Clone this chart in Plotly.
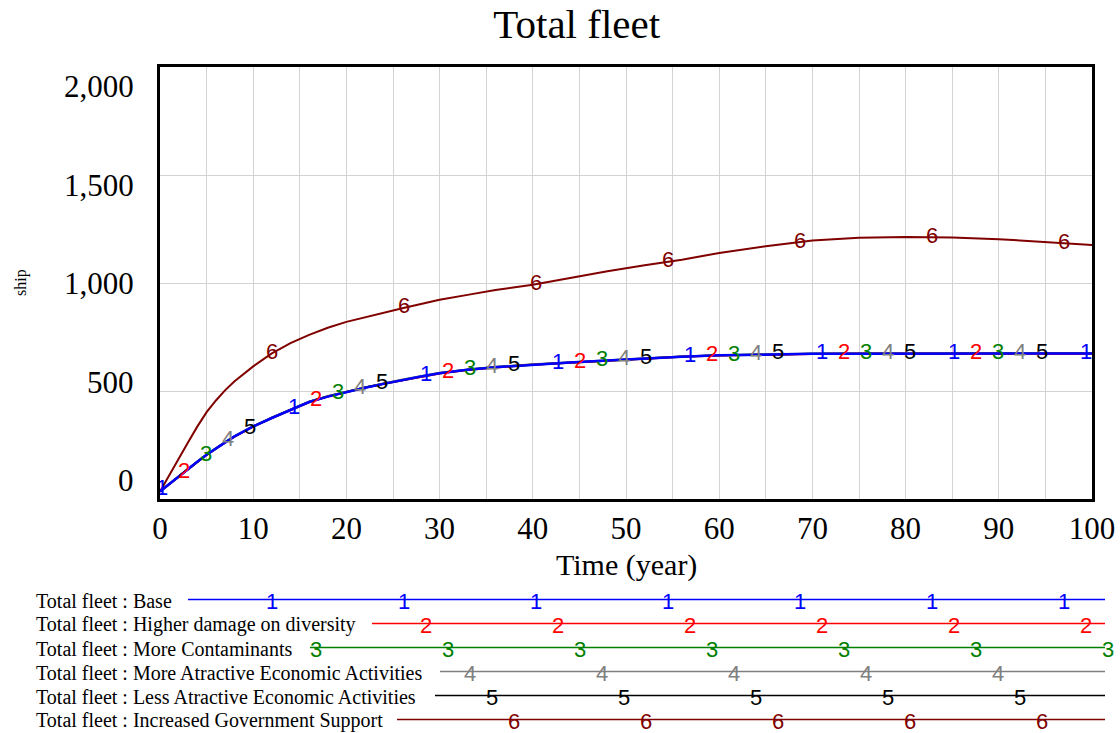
import numpy as np
import plotly.graph_objects as go

# ---------------- data ----------------
time = [0, 1, 2, 3, 4, 5, 6, 7, 8, 10, 12, 14, 16, 18, 20, 22, 24, 26, 28, 30,
        33, 36, 40, 44, 48, 52, 56, 60, 65, 70, 75, 80, 85, 90, 95, 100]

base = [35, 70, 103, 136, 172, 205, 235, 262, 290, 336, 375, 412, 449, 474, 496, 515, 533, 551, 567, 582,
        598, 610, 622, 632, 641, 651, 659, 665, 670, 672, 673, 673, 674, 674, 674, 674]
higher_damage = [35, 70, 103, 136, 171, 204, 234, 262, 289, 335, 375, 412, 448, 474, 495, 515, 533, 550, 567, 581,
                 597, 609, 621, 631, 640, 650, 658, 664, 669, 671, 672, 673, 673, 673, 673, 673]
more_contaminants = [35, 70, 104, 137, 172, 205, 235, 263, 290, 336, 376, 413, 449, 475, 496, 516, 534, 551, 568, 582,
                     598, 610, 622, 632, 641, 650, 659, 665, 670, 672, 673, 673, 674, 674, 674, 674]
more_attractive = [35, 71, 104, 137, 173, 206, 236, 263, 291, 337, 377, 414, 450, 476, 497, 517, 535, 553, 569, 584,
                   600, 612, 624, 634, 643, 652, 660, 666, 671, 673, 674, 674, 675, 675, 675, 675]
less_attractive = [35, 70, 103, 136, 172, 205, 235, 262, 290, 336, 376, 413, 450, 476, 497, 516, 535, 552, 568, 583,
                   599, 611, 623, 633, 642, 651, 660, 666, 671, 673, 674, 674, 674, 674, 674, 674]
gov_support = [35, 112, 190, 262, 335, 402, 456, 504, 545, 614, 674, 722, 760, 793, 820, 842, 862, 883, 903, 922,
               945, 968, 992, 1024, 1054, 1082, 1108, 1139, 1170, 1197, 1210, 1213, 1211, 1203, 1190, 1176]

series_names = ["Base", "Higher damage on diversity", "More Contaminants",
                "More Atractive Economic Activities", "Less Atractive Economic Activities",
                "Increased Government Support"]
series_values = [base, higher_damage, more_contaminants, more_attractive, less_attractive, gov_support]
series_labels = ["1", "2", "3", "4", "5", "6"]

x_tick_vals = [0, 10, 20, 30, 40, 50, 60, 70, 80, 90, 100]
x_tick_text = ["0", "10", "20", "30", "40", "50", "60", "70", "80", "90", "100"]
y_tick_vals = [0, 500, 1000, 1500, 2000]
y_tick_text = ["0", "500", "1,000", "1,500", "2,000"]

title_text = "Total fleet"
x_title = "Time (year)"
y_title = "ship"

# ---------------- styling ----------------
W, H = 1120, 733
colors = ["#0000FF", "#FF0000", "#008000", "#808080", "#000000", "#800000"]
widths = [2.5, 2, 2, 2, 2, 2]
serif = "Liberation Serif, Times New Roman, serif"
sans = "Liberation Sans, Arial, sans-serif"
grid = "#D3D3D3"

PX0, PX1 = 160, 1092     # plot area, pixels
PY0, PY1 = 67, 499


def fx(p):
    return p / W


def fy(p):
    return 1 - p / H


fig = go.Figure()

# lines (series 1 on top)
for i in reversed(range(6)):
    fig.add_trace(go.Scatter(x=time, y=series_values[i], mode="lines",
                             line=dict(color=colors[i], width=widths[i]),
                             name="Total fleet : " + series_names[i],
                             showlegend=False, hoverinfo="x+y+name"))

# numbered markers along the lines (Vensim style)
px_per_year = (PX1 - PX0) / 100.0
for i in range(6):
    mx = []
    p = 162 + 22 * i
    while p <= PX1:
        mx.append((p - PX0) / px_per_year)
        p += 132
    my = list(np.interp(mx, time, series_values[i]))
    fig.add_trace(go.Scatter(x=mx, y=my, mode="text", text=[series_labels[i]] * len(mx),
                             textposition="middle center",
                             textfont=dict(family=sans, size=22, color=colors[i]),
                             showlegend=False, hoverinfo="skip"))

annotations = []
shapes = []

# y tick labels (Vensim spaces them evenly inside the frame)
for k, t in enumerate(y_tick_text):
    annotations.append(dict(text=t, xref="paper", yref="y domain",
                            x=fx(136), y=0.042 + k * 0.228, xanchor="right", yanchor="middle",
                            showarrow=False, font=dict(family=serif, size=31, color="black")))

# axis titles
annotations.append(dict(text=x_title, xref="paper", yref="paper", x=fx(626), y=fy(565),
                        xanchor="center", yanchor="middle", showarrow=False,
                        font=dict(family=serif, size=30, color="black")))
annotations.append(dict(text=y_title, xref="paper", yref="paper", x=fx(21), y=fy(283),
                        xanchor="center", yanchor="middle", textangle=-90, showarrow=False,
                        font=dict(family=serif, size=16, color="black")))

# legend at the bottom
leg_y = [599.5, 623.5, 647.5, 671.5, 695.5, 719.5]
leg_start = [188, 372, 310, 440, 435, 397]
leg_end = 1105
for i in range(6):
    annotations.append(dict(text="Total fleet : " + series_names[i], xref="paper", yref="paper",
                            x=fx(34), y=fy(leg_y[i] + 1), xanchor="left", yanchor="middle",
                            showarrow=False, font=dict(family=serif, size=20, color="black")))
    shapes.append(dict(type="line", xref="paper", yref="paper",
                       x0=fx(leg_start[i]), x1=fx(leg_end), y0=fy(leg_y[i]), y1=fy(leg_y[i]),
                       line=dict(color=colors[i], width=1.6)))
    p = 272 + 22 * i
    while p <= 1110:
        if p >= leg_start[i] + 3:
            annotations.append(dict(text=series_labels[i], xref="paper", yref="paper",
                                    x=fx(p), y=fy(leg_y[i] + 1.5), xanchor="center", yanchor="middle",
                                    showarrow=False,
                                    font=dict(family=sans, size=22, color=colors[i])))
        p += 132

fig.update_layout(
    width=W, height=H,
    margin=dict(l=0, r=0, t=0, b=0, pad=0, autoexpand=False),
    paper_bgcolor="white", plot_bgcolor="white",
    title=dict(text=title_text, x=576.7 / W, xanchor="center", y=fy(23.5), yanchor="middle",
               font=dict(family=serif, size=41, color="black")),
    xaxis=dict(domain=[fx(PX0), fx(PX1)], range=[0, 100], automargin=False,
               tickmode="array", tickvals=x_tick_vals, ticktext=x_tick_text,
               showgrid=True, gridcolor=grid, gridwidth=1,
               minor=dict(tickmode="linear", tick0=0, dtick=5, showgrid=True, gridcolor=grid, gridwidth=1),
               showline=True, linecolor="black", linewidth=3, mirror=True,
               zeroline=False, ticks="",
               tickfont=dict(family=serif, size=31, color="black")),
    yaxis=dict(domain=[fy(PY1), fy(PY0)], range=[0, 2000], automargin=False,
               tickmode="array", tickvals=y_tick_vals, showticklabels=False,
               showgrid=True, gridcolor=grid, gridwidth=1,
               showline=True, linecolor="black", linewidth=3, mirror=True,
               zeroline=False, ticks=""),
    annotations=annotations,
    shapes=shapes,
)

fig.write_html("out.html", config={"displayModeBar": False},
               post_script="document.body.style.margin='0';document.body.style.overflow='hidden';")
